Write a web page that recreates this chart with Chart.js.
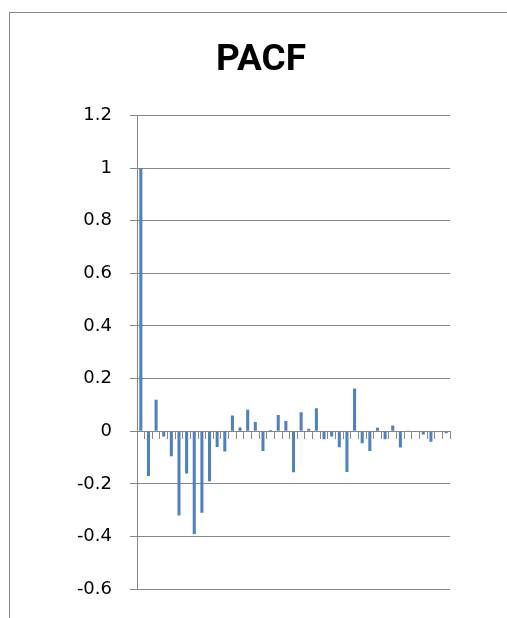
<!DOCTYPE html>
<html>
<head>
<meta charset="utf-8">
<script src="https://cdn.jsdelivr.net/npm/chart.js@4.4.1/dist/chart.umd.min.js"></script>
<style>
  html, body { margin: 0; padding: 0; background: #fff; overflow: hidden; }
  body { width: 507px; height: 618px; position: relative; }
  #frame { position: absolute; left: 9px; top: 12px; width: 600px; height: 700px; border-left: 1px solid #898989; border-top: 1px solid #898989; }
  #wrap { position: absolute; left: 0; top: 0; width: 522px; height: 618px; }
</style>
</head>
<body>
<div id="frame"></div>
<div id="wrap"><canvas id="pacf"></canvas></div>
<script>
// PACF values for lags 0..40
const lags = Array.from({ length: 41 }, (_, i) => String(i));
const pacfValues = [
  1.0, -0.17, 0.12, -0.02, -0.095, -0.32, -0.16, -0.39, -0.31, -0.19,
  -0.06, -0.077, 0.06, 0.014, 0.082, 0.035, -0.075, 0.005, 0.062, 0.039,
  -0.156, 0.072, 0.01, 0.087, -0.03, -0.02, -0.061, -0.155, 0.162, -0.046,
  -0.075, 0.013, -0.03, 0.022, -0.062, 0.003, -0.003, -0.012, -0.04, 0.002,
  -0.008
];
const yMin = -0.6;
const yMax = 1.2;
const yStep = 0.2;

const gridGray = '#868686';

const ctx = document.getElementById('pacf').getContext('2d');
new Chart(ctx, {
  type: 'bar',
  data: {
    labels: lags,
    datasets: [{
      label: 'PACF',
      data: pacfValues,
      backgroundColor: '#4F81BD',
      borderWidth: 0,
      barPercentage: 0.4,
      categoryPercentage: 1.0
    }]
  },
  options: {
    responsive: true,
    maintainAspectRatio: false,
    animation: false,
    // symmetric padding keeps the title centred over the frame
    layout: { padding: { left: 72, right: 72, top: 0, bottom: 19 } },
    plugins: {
      legend: { display: false },
      tooltip: { enabled: false },
      title: {
        display: true,
        text: 'PACF',
        color: '#000',
        font: { family: 'Roboto, "Liberation Sans", sans-serif', size: 37, weight: 'bold', lineHeight: 1.2 },
        padding: { top: 39, bottom: 32 }
      }
    },
    scales: {
      x: {
        position: { y: 0 },
        grid: { display: true, drawOnChartArea: false, drawTicks: true, tickLength: 7, color: gridGray, offset: true },
        border: { display: true, color: gridGray },
        ticks: { display: false },
        afterFit: s => { s.height = 0; }
      },
      y: {
        min: yMin,
        max: yMax,
        grid: { color: gridGray, tickLength: 7 },
        border: { display: true, color: gridGray },
        ticks: {
          stepSize: yStep,
          padding: 18,
          color: '#000',
          font: { family: '"DejaVu Sans", sans-serif', size: 18 },
          callback: v => String(Number(v.toFixed(1)))
        },
        afterFit: s => { s.width = 65; }
      }
    }
  }
});
</script>
</body>
</html>
